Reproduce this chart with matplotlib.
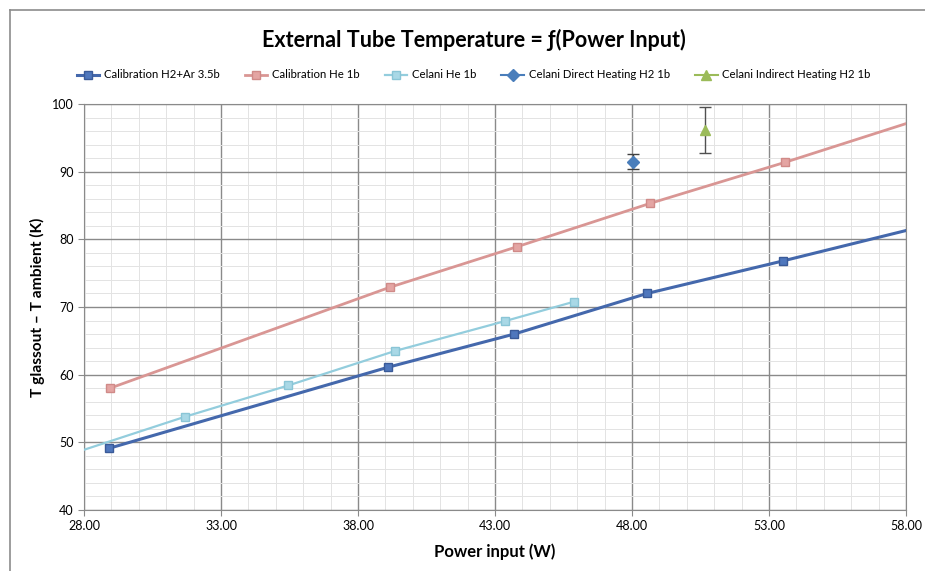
import numpy as np
import matplotlib.pyplot as plt
from matplotlib.lines import Line2D

plt.rcParams['font.family'] = ['Lato', 'DejaVu Sans']

# data
cal_h2ar_x = [28.9, 39.1, 43.7, 48.55, 53.5]
cal_h2ar_y = [49.1, 61.1, 66.0, 72.0, 76.8]
cal_h2ar_ext = [53.5, 58.0]          # forecast part of the line
cal_h2ar_ext_y = [76.8, 81.3]

cal_he_x = [28.95, 39.15, 43.8, 48.65, 53.6]
cal_he_y = [58.0, 72.9, 78.9, 85.3, 91.4]
cal_he_ext = [53.6, 58.0]
cal_he_ext_y = [91.4, 97.1]

celani_he_x = [31.7, 35.45, 39.35, 43.35, 45.9]
celani_he_y = [53.8, 58.4, 63.5, 67.9, 70.8]
celani_he_ext = [28.0, 31.7]
celani_he_ext_y = [48.9, 53.8]

direct_x = [48.05]
direct_y = [91.5]
direct_err = [1.1]

indirect_x = [50.65]
indirect_y = [96.1]
indirect_err = [3.4]

c_blue = '#4468ac'
c_red = '#d99694'
c_cyan = '#93cddd'
c_direct = '#4a7ebb'
c_green = '#9bbb59'

fig = plt.figure(figsize=(9.25, 5.71), dpi=100)
# outer chart frame (top and left only visible)
fig.lines.append(Line2D([10 / 925, 1.0], [1 - 10 / 571, 1 - 10 / 571], transform=fig.transFigure,
                        color='#8c8c8c', lw=1.2))
fig.lines.append(Line2D([10 / 925, 10 / 925], [0, 1 - 10 / 571], transform=fig.transFigure,
                        color='#8c8c8c', lw=1.2))

ax = fig.add_axes([84 / 925, 1 - 510 / 571, (906 - 84) / 925, (510 - 104) / 571])

ax.plot(cal_h2ar_ext, cal_h2ar_ext_y, color=c_blue, lw=2.2, zorder=3)
ax.plot(cal_he_ext, cal_he_ext_y, color=c_red, lw=2.0, zorder=3)
ax.plot(celani_he_ext, celani_he_ext_y, color=c_cyan, lw=1.6, zorder=3)

ax.plot(cal_h2ar_x, cal_h2ar_y, '-s', color=c_blue, lw=2.2, ms=5.5, mfc='#4f77bd', mec='#3a5a98',
        zorder=4, label='Calibration H2+Ar 3.5b')
ax.plot(cal_he_x, cal_he_y, '-s', color=c_red, lw=2.0, ms=5.5, mfc='#e4a5a3', mec='#d08a88',
        zorder=4, label='Calibration He 1b')
ax.plot(celani_he_x, celani_he_y, '-s', color=c_cyan, lw=1.6, ms=5.5, mfc='#a9d8e6', mec='#8ac5d6',
        zorder=4, label='Celani He 1b')
ax.errorbar(direct_x, direct_y, yerr=direct_err, fmt='-D', color=c_direct, ms=6,
            ecolor='#404040', elinewidth=1, capsize=4, zorder=5,
            label='Celani Direct Heating H2 1b')
ax.errorbar(indirect_x, indirect_y, yerr=indirect_err, fmt='-^', color=c_green, ms=7,
            ecolor='#505050', elinewidth=1, capsize=4, zorder=5,
            label='Celani Indirect Heating H2 1b')

ax.set_xlim(28, 58)
ax.set_ylim(40, 100)
ax.set_xticks(np.arange(28, 59, 5))
ax.set_xticklabels(['%.2f' % v for v in np.arange(28, 59, 5)])
ax.set_yticks(np.arange(40, 101, 10))
ax.set_xticks(np.arange(28, 59, 1), minor=True)
ax.set_yticks(np.arange(40, 101, 2), minor=True)
ax.grid(which='major', color='#8a8a8a', lw=1.0)
ax.grid(which='minor', color='#e3e3e3', lw=0.7)
ax.set_axisbelow(True)
ax.tick_params(which='minor', length=0)
ax.tick_params(which='major', labelsize=9, color='#8a8a8a', length=4)
for s in ax.spines.values():
    s.set_color('#8a8a8a')

ax.set_xlabel('Power input (W)', fontsize=12, fontweight='bold', labelpad=8)
ax.set_ylabel('T glassout – T ambient (K)', fontsize=11.2, fontweight='bold', labelpad=5)

fig.text(0.512, 1 - 40 / 571, 'External Tube Temperature = ƒ(Power Input)', ha='center', va='center',
         fontsize=15.5, fontweight='bold')

handles, labels = ax.get_legend_handles_labels()
handles = [h.lines[0] if hasattr(h, 'lines') and not isinstance(h, Line2D) else h for h in handles]
fig.legend(handles, labels, loc='center', bbox_to_anchor=(0.512, 1 - 75 / 571), ncol=5, frameon=False,
           fontsize=8.2, handlelength=2.0, columnspacing=2.2, handletextpad=0.4)

fig.savefig('out.png', dpi=100)
